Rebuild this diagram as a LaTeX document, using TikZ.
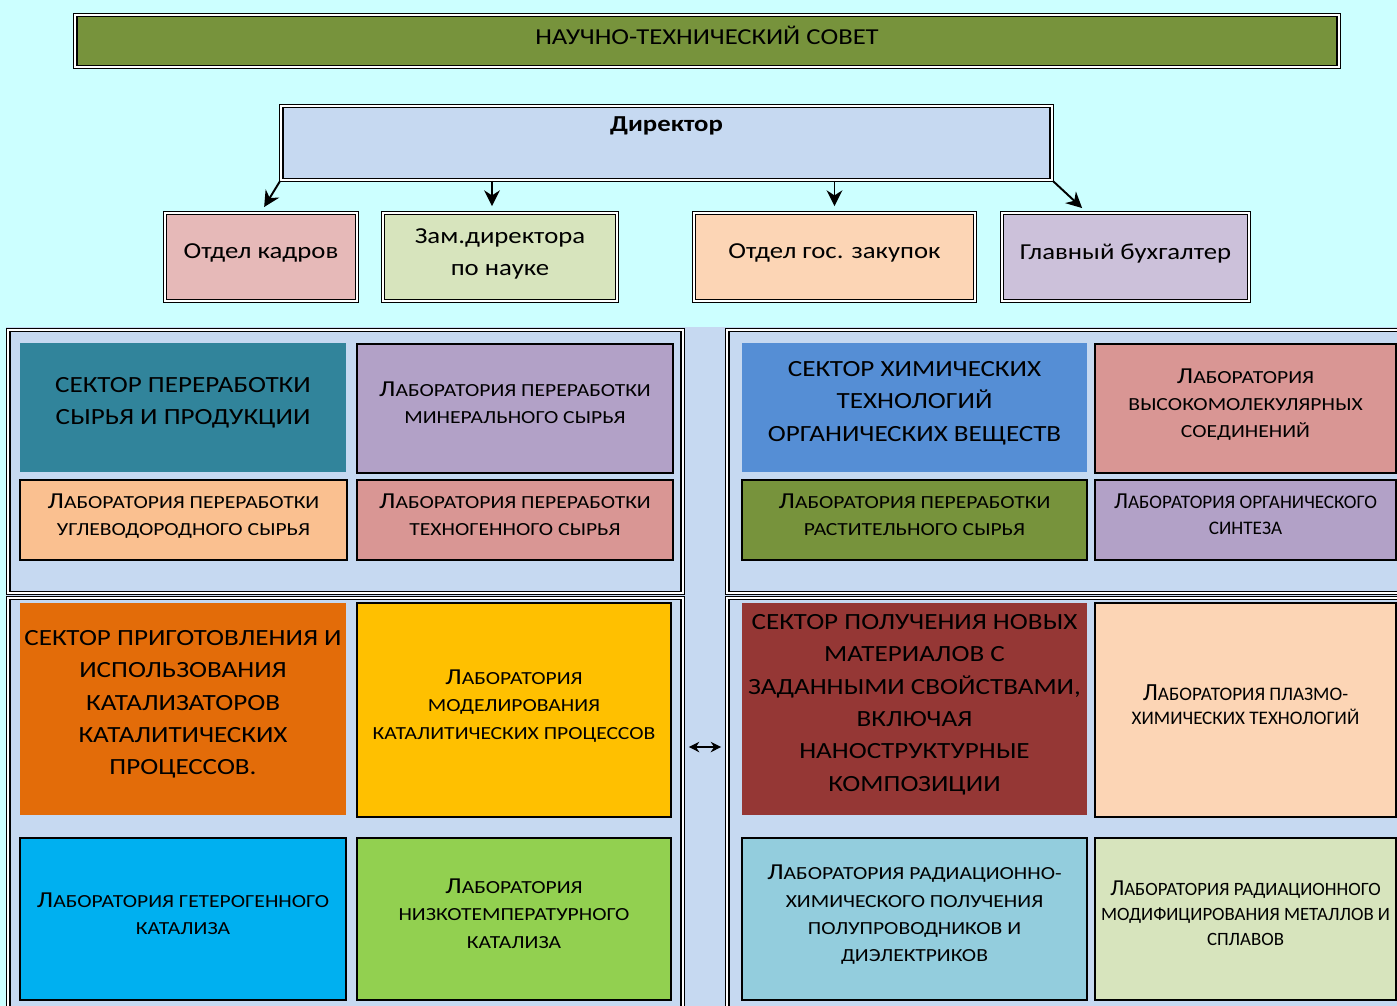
\documentclass[tikz,border=0pt]{standalone}
\usepackage{fontspec}
\setmainfont{Carlito}[FakeStretch=1.17]
\newfontfamily\narrowfont{Carlito}
\usepackage{tikz}
\usetikzlibrary{arrows.meta}

\definecolor{cyanbg}{HTML}{CCFFFF}
\definecolor{panelbg}{HTML}{C6D9F1}
\definecolor{sovetgreen}{HTML}{77933C}
\definecolor{kadrypink}{HTML}{E6B9B8}
\definecolor{zamgreen}{HTML}{D7E4BD}
\definecolor{zakuppeach}{HTML}{FCD5B5}
\definecolor{buhlilac}{HTML}{CCC1DA}
\definecolor{sectteal}{HTML}{31849B}
\definecolor{sectblue}{HTML}{558ED5}
\definecolor{sectorange}{HTML}{E36C09}
\definecolor{sectred}{HTML}{953735}
\definecolor{lablilac}{HTML}{B2A1C7}
\definecolor{labapricot}{HTML}{FAC090}
\definecolor{labrose}{HTML}{D99694}
\definecolor{labyellow}{HTML}{FFC000}
\definecolor{labsky}{HTML}{00B0F0}
\definecolor{lablime}{HTML}{92D050}
\definecolor{labaqua}{HTML}{93CDDD}

% first letter of a laboratory name
\newcommand{\Lab}[1][13]{{\fontsize{#1}{16}\selectfont Л}}

\tikzset{
	dbl/.style={draw, double=white, double distance=0.8pt, line width=1pt},
	topbox/.style={dbl, align=center, font=\fontsize{13}{18}\selectfont},
	panel/.style={dbl, fill=panelbg},
	sector/.style={align=center, inner sep=0pt, text depth=0.25cm, font=\fontsize{13.2}{18.4}\selectfont},
	labbox/.style={draw, line width=1.1pt, align=center, inner sep=0pt, text depth=0.22cm, font=\fontsize{10.5}{15.5}\selectfont},
	arr/.style={-{Stealth[length=9pt,width=9pt]}, line width=1.1pt, shorten >=0.12cm},
	dblarr/.style={{Stealth[length=6pt,width=6pt]}-{Stealth[length=6pt,width=6pt]}, line width=0.8pt, shorten >=0.1cm, shorten <=0.1cm}
}

\begin{document}
\begin{tikzpicture}[x=0.02cm, y=-0.02cm]

\useasboundingbox (0,0) rectangle (1397,1006);
\fill[cyanbg] (0,0) rectangle (1397,1006);
\fill[panelbg] (6,327) rectangle (1397,1006);

% upper part
\node[topbox, fill=sovetgreen, text depth=0.24cm, minimum width=25.28cm, minimum height=1.04cm] (sovet) at (707,41) {НАУЧНО-ТЕХНИЧЕСКИЙ СОВЕТ};

\node[dbl, fill=panelbg, minimum width=15.42cm, minimum height=1.48cm,
	label={[anchor=north, yshift=-0.1cm, font=\bfseries\fontsize{13}{15}\selectfont]north:Директор}] (dir) at (666.5,143) {};

\node[topbox, fill=kadrypink, text depth=0.22cm, minimum width=3.84cm, minimum height=1.76cm] (kadry) at (261,257) {Отдел кадров};
\node[topbox, fill=zamgreen, text depth=0.2cm, minimum width=4.68cm, minimum height=1.76cm] (zam) at (500,257) {Зам.директора\\по науке};
\node[topbox, fill=zakuppeach, text depth=0.22cm, minimum width=5.62cm, minimum height=1.76cm] (zakup) at (834.5,257) {Отдел гос. закупок};
\node[topbox, fill=buhlilac, text depth=0.22cm, minimum width=4.94cm, minimum height=1.76cm] (buh) at (1125.5,257) {Главный бухгалтер};

\draw[arr] (dir.south west) -- (kadry.north);
\draw[arr] ([xshift=-0.16cm]zam.north |- dir.south) -- ([xshift=-0.16cm]zam.north);
\draw[arr] (zakup.north |- dir.south) -- (zakup.north);
\draw[arr] (dir.south east) -- ([xshift=-0.78cm]buh.north);

% panels
\node[panel, minimum width=13.5cm, minimum height=5.26cm] (tl) at (345.5,461.5) {};
\node[panel, minimum width=13.46cm, minimum height=5.26cm] (tr) at (1063.5,461.5) {};
\node[panel, minimum width=13.5cm, minimum height=8.28cm] (bl) at (345.5,805) {};
\node[panel, minimum width=13.46cm, minimum height=8.28cm] (br) at (1063.5,805) {};

\draw[dblarr] ([yshift=1.16cm]bl.east) -- ([yshift=1.16cm]br.west);

% top left
\node[sector, fill=sectteal, minimum width=6.52cm, minimum height=2.58cm] (s1) at (183,407.5) {СЕКТОР ПЕРЕРАБОТКИ\\СЫРЬЯ И ПРОДУКЦИИ};
\node[labbox, fill=lablilac, minimum width=6.32cm, minimum height=2.58cm] (l1) at (515,408.5) {\Lab АБОРАТОРИЯ ПЕРЕРАБОТКИ\\МИНЕРАЛЬНОГО СЫРЬЯ};
\node[labbox, fill=labapricot, minimum width=6.54cm, minimum height=1.6cm] (l2) at (183.5,520) {\Lab АБОРАТОРИЯ ПЕРЕРАБОТКИ\\УГЛЕВОДОРОДНОГО СЫРЬЯ};
\node[labbox, fill=labrose, minimum width=6.32cm, minimum height=1.6cm] (l3) at (515,520) {\Lab АБОРАТОРИЯ ПЕРЕРАБОТКИ\\ТЕХНОГЕННОГО СЫРЬЯ};

% top right
\node[sector, fill=sectblue, minimum width=6.9cm, minimum height=2.58cm] (s2) at (914.5,407.5) {СЕКТОР ХИМИЧЕСКИХ\\ТЕХНОЛОГИЙ\\ОРГАНИЧЕСКИХ ВЕЩЕСТВ};
\node[labbox, fill=labrose, minimum width=6.02cm, minimum height=2.58cm] (l4) at (1245.5,408.5) {\Lab АБОРАТОРИЯ\\ВЫСОКОМОЛЕКУЛЯРНЫХ\\СОЕДИНЕНИЙ};
\node[labbox, fill=sovetgreen, minimum width=6.9cm, minimum height=1.6cm] (l5) at (914.5,520) {\Lab АБОРАТОРИЯ ПЕРЕРАБОТКИ\\РАСТИТЕЛЬНОГО СЫРЬЯ};
\node[labbox, fill=lablilac, minimum width=6.02cm, minimum height=1.6cm, font=\narrowfont\fontsize{10.9}{14.7}\selectfont] (l6) at (1245.5,520) {\Lab АБОРАТОРИЯ ОРГАНИЧЕСКОГО\\СИНТЕЗА};

% bottom left
\node[sector, fill=sectorange, minimum width=6.52cm, minimum height=4.24cm] (s3) at (183,709) {СЕКТОР ПРИГОТОВЛЕНИЯ И\\ИСПОЛЬЗОВАНИЯ\\КАТАЛИЗАТОРОВ\\КАТАЛИТИЧЕСКИХ\\ПРОЦЕССОВ.};
\node[labbox, fill=labyellow, minimum width=6.28cm, minimum height=4.28cm] (l7) at (514,710) {\Lab АБОРАТОРИЯ\\МОДЕЛИРОВАНИЯ\\КАТАЛИТИЧЕСКИХ ПРОЦЕССОВ};
\node[labbox, fill=labsky, minimum width=6.52cm, minimum height=3.24cm] (l8) at (183,919) {\Lab АБОРАТОРИЯ ГЕТЕРОГЕННОГО\\КАТАЛИЗА};
\node[labbox, fill=lablime, minimum width=6.28cm, minimum height=3.24cm] (l9) at (514,919) {\Lab АБОРАТОРИЯ\\НИЗКОТЕМПЕРАТУРНОГО\\КАТАЛИЗА};

% bottom right
\node[sector, fill=sectred, minimum width=6.9cm, minimum height=4.24cm] (s4) at (914.5,709) {СЕКТОР ПОЛУЧЕНИЯ НОВЫХ\\МАТЕРИАЛОВ С\\ЗАДАННЫМИ СВОЙСТВАМИ,\\ВКЛЮЧАЯ\\НАНОСТРУКТУРНЫЕ\\КОМПОЗИЦИИ};
\node[labbox, fill=zakuppeach, minimum width=6.02cm, minimum height=4.28cm, font=\narrowfont\fontsize{10.9}{13.6}\selectfont] (l10) at (1245.5,710) {\Lab[14]АБОРАТОРИЯ ПЛАЗМО-\\ХИМИЧЕСКИХ ТЕХНОЛОГИЙ};
\node[labbox, fill=labaqua, minimum width=6.9cm, minimum height=3.24cm] (l11) at (914.5,919) {\Lab АБОРАТОРИЯ РАДИАЦИОННО-\\ХИМИЧЕСКОГО ПОЛУЧЕНИЯ\\ПОЛУПРОВОДНИКОВ И\\ДИЭЛЕКТРИКОВ};
\node[labbox, fill=zamgreen, minimum width=6.02cm, minimum height=3.24cm, font=\narrowfont\fontsize{10.7}{14.2}\selectfont] (l12) at (1245.5,919) {\Lab АБОРАТОРИЯ РАДИАЦИОННОГО\\МОДИФИЦИРОВАНИЯ МЕТАЛЛОВ И\\СПЛАВОВ};

\end{tikzpicture}
\end{document}
